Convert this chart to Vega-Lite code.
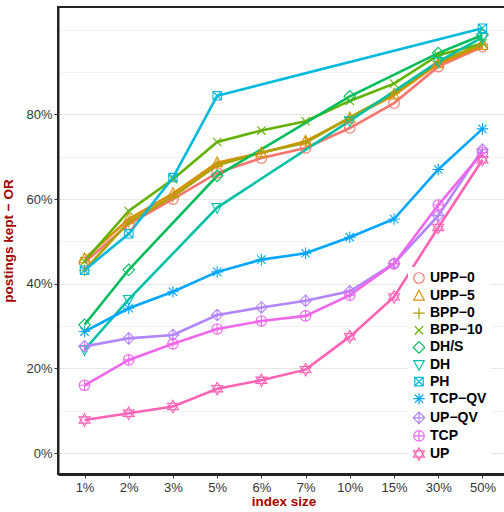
{
  "$schema": "https://vega.github.io/schema/vega-lite/v6.json",
  "autosize": "none",
  "padding": {"left": 58, "top": 7, "right": 0, "bottom": 38},
  "width": 451,
  "height": 467,
  "background": "white",
  "config": {
    "view": {"stroke": "#222", "strokeWidth": 2},
    "font": "Liberation Sans",
    "axis": {
      "labelFont": "Liberation Sans", "labelFontSize": 13, "labelColor": "#333",
      "titleFont": "Liberation Sans", "titleFontSize": 13.5, "titleFontWeight": "bold", "titleColor": "#A50000",
      "gridColor": "#EBEBEB", "gridWidth": 1.2, "domainColor": "#222", "domainWidth": 2,
      "tickColor": "#333", "tickSize": 4
    }
  },
  "data": {"values": [
    {"m":"UPP−0","x":"1%","y":45.0},{"m":"UPP−0","x":"2%","y":54.1},{"m":"UPP−0","x":"3%","y":60.0},{"m":"UPP−0","x":"5%","y":66.2},{"m":"UPP−0","x":"6%","y":69.7},{"m":"UPP−0","x":"7%","y":72.1},{"m":"UPP−0","x":"10%","y":76.8},{"m":"UPP−0","x":"15%","y":82.7},{"m":"UPP−0","x":"30%","y":91.3},{"m":"UPP−0","x":"50%","y":96.0},
    {"m":"UPP−5","x":"1%","y":45.9},{"m":"UPP−5","x":"2%","y":55.3},{"m":"UPP−5","x":"3%","y":61.3},{"m":"UPP−5","x":"5%","y":68.6},{"m":"UPP−5","x":"6%","y":70.9},{"m":"UPP−5","x":"7%","y":73.7},{"m":"UPP−5","x":"10%","y":79.1},{"m":"UPP−5","x":"15%","y":84.6},{"m":"UPP−5","x":"30%","y":92.0},{"m":"UPP−5","x":"50%","y":96.3},
    {"m":"BPP−0","x":"1%","y":43.2},{"m":"BPP−0","x":"2%","y":54.6},{"m":"BPP−0","x":"3%","y":60.6},{"m":"BPP−0","x":"5%","y":68.0},{"m":"BPP−0","x":"6%","y":71.0},{"m":"BPP−0","x":"7%","y":73.3},{"m":"BPP−0","x":"10%","y":79.3},{"m":"BPP−0","x":"15%","y":85.0},{"m":"BPP−0","x":"30%","y":92.5},{"m":"BPP−0","x":"50%","y":96.6},
    {"m":"BPP−10","x":"1%","y":45.3},{"m":"BPP−10","x":"2%","y":57.2},{"m":"BPP−10","x":"3%","y":64.7},{"m":"BPP−10","x":"5%","y":73.5},{"m":"BPP−10","x":"6%","y":76.2},{"m":"BPP−10","x":"7%","y":78.4},{"m":"BPP−10","x":"10%","y":83.2},{"m":"BPP−10","x":"15%","y":87.3},{"m":"BPP−10","x":"30%","y":94.0},{"m":"BPP−10","x":"50%","y":96.8},
    {"m":"DH/S","x":"1%","y":30.3},{"m":"DH/S","x":"2%","y":43.3},{"m":"DH/S","x":"5%","y":65.5},{"m":"DH/S","x":"10%","y":84.3},{"m":"DH/S","x":"30%","y":94.5},{"m":"DH/S","x":"50%","y":98.8},
    {"m":"DH","x":"1%","y":24.4},{"m":"DH","x":"2%","y":36.3},{"m":"DH","x":"5%","y":58.0},{"m":"DH","x":"10%","y":78.5},{"m":"DH","x":"30%","y":92.5},{"m":"DH","x":"50%","y":98.2},
    {"m":"PH","x":"1%","y":43.2},{"m":"PH","x":"2%","y":51.8},{"m":"PH","x":"3%","y":65.1},{"m":"PH","x":"5%","y":84.4},{"m":"PH","x":"50%","y":100.4},
    {"m":"TCP−QV","x":"1%","y":28.7},{"m":"TCP−QV","x":"2%","y":34.2},{"m":"TCP−QV","x":"3%","y":38.1},{"m":"TCP−QV","x":"5%","y":42.8},{"m":"TCP−QV","x":"6%","y":45.7},{"m":"TCP−QV","x":"7%","y":47.2},{"m":"TCP−QV","x":"10%","y":51.0},{"m":"TCP−QV","x":"15%","y":55.3},{"m":"TCP−QV","x":"30%","y":67.0},{"m":"TCP−QV","x":"50%","y":76.6},
    {"m":"UP−QV","x":"1%","y":25.2},{"m":"UP−QV","x":"2%","y":27.1},{"m":"UP−QV","x":"3%","y":27.9},{"m":"UP−QV","x":"5%","y":32.6},{"m":"UP−QV","x":"6%","y":34.4},{"m":"UP−QV","x":"7%","y":36.0},{"m":"UP−QV","x":"10%","y":38.2},{"m":"UP−QV","x":"15%","y":44.8},{"m":"UP−QV","x":"30%","y":56.1},{"m":"UP−QV","x":"50%","y":71.7},
    {"m":"TCP","x":"1%","y":16.0},{"m":"TCP","x":"2%","y":22.0},{"m":"TCP","x":"3%","y":25.8},{"m":"TCP","x":"5%","y":29.3},{"m":"TCP","x":"6%","y":31.2},{"m":"TCP","x":"7%","y":32.4},{"m":"TCP","x":"10%","y":37.3},{"m":"TCP","x":"15%","y":44.7},{"m":"TCP","x":"30%","y":58.6},{"m":"TCP","x":"50%","y":71.0},
    {"m":"UP","x":"1%","y":7.8},{"m":"UP","x":"2%","y":9.4},{"m":"UP","x":"3%","y":11.0},{"m":"UP","x":"5%","y":15.2},{"m":"UP","x":"6%","y":17.2},{"m":"UP","x":"7%","y":19.7},{"m":"UP","x":"10%","y":27.5},{"m":"UP","x":"15%","y":36.9},{"m":"UP","x":"30%","y":53.3},{"m":"UP","x":"50%","y":69.3}
  ]},
  "encoding": {
    "x": {"field": "x", "type": "ordinal",
      "sort": ["1%","2%","3%","5%","6%","7%","10%","15%","30%","50%"],
      "scale": {"type": "point", "padding": 0.6},
      "axis": {"title": "index size", "labelAngle": 0, "labelPadding": 3, "titleY": 27, "titleBaseline": "middle", "domainWidth": 3}},
    "y": {"field": "y", "type": "quantitative",
      "scale": {"domain": [-4.96, 105.4], "nice": false, "zero": false},
      "axis": {"title": "postings kept − OR", "values": [0,10,20,30,40,50,60,70,80,90,100],
        "labelExpr": "datum.value % 20 === 0 && datum.value < 100 ? datum.value + '%' : ''",
        "tickColor": {"condition": {"test": "datum.value % 20 === 0 && datum.value < 100", "value": "#333"}, "value": "transparent"},
        "gridColor": {"condition": {"test": "datum.value % 20 === 0 && datum.value < 100", "value": "#E6E6E6"}, "value": "#F3F3F3"},
        "titleX": -43, "labelPadding": 2}},
    "color": {"field": "m", "type": "nominal",
      "scale": {"domain": ["UPP−0","UPP−5","BPP−0","BPP−10","DH/S","DH","PH","TCP−QV","UP−QV","TCP","UP"],
        "range": ["#F8766D","#DB8E00","#AEA200","#64B200","#00BD5C","#00C1A7","#00BADE","#00A6FF","#B385FF","#EF67EB","#FF63B6"]},
      "legend": {"title": null, "orient": "none", "legendX": 350, "legendY": 260,
        "fillColor": "white", "padding": 4, "labelFont": "Liberation Sans", "labelFontSize": 14, "labelFontWeight": "bold",
        "labelColor": "#000", "rowPadding": 1.1, "symbolSize": 110, "symbolStrokeWidth": 1.2, "labelOffset": 4}}
  },
  "layer": [
    {"mark": {"type": "line", "strokeWidth": 2.6}},
    {"mark": {"type": "point", "filled": false, "size": 110, "strokeWidth": 1.1, "opacity": 1},
     "encoding": {
       "shape": {"field": "m", "type": "nominal",
         "scale": {"domain": ["UPP−0","UPP−5","BPP−0","BPP−10","DH/S","DH","PH","TCP−QV","UP−QV","TCP","UP"],
           "range": [
             "circle",
             "M0,-1.1L1,0.75L-1,0.75Z",
             "M-1.1,0L1.1,0M0,-1.1L0,1.1",
             "M-0.8,-0.8L0.8,0.8M-0.8,0.8L0.8,-0.8",
             "M0,-1.1L1.1,0L0,1.1L-1.1,0Z",
             "M0,1.1L1,-0.75L-1,-0.75Z",
             "M-0.8,-0.8L0.8,-0.8L0.8,0.8L-0.8,0.8ZM-0.8,-0.8L0.8,0.8M-0.8,0.8L0.8,-0.8",
             "M-1.1,0L1.1,0M0,-1.1L0,1.1M-0.8,-0.8L0.8,0.8M-0.8,0.8L0.8,-0.8",
             "M0,-1.1L1.1,0L0,1.1L-1.1,0ZM-1.1,0L1.1,0M0,-1.1L0,1.1",
             "M-1,0A1,1,0,1,1,1,0A1,1,0,1,1,-1,0ZM-1,0L1,0M0,-1L0,1",
             "M0,-1.2L1.05,0.6L-1.05,0.6ZM0,1.2L1.05,-0.6L-1.05,-0.6Z"
           ]},
         "legend": {"title": null, "orient": "none", "legendX": 350, "legendY": 260}}
     }}
  ]
}
